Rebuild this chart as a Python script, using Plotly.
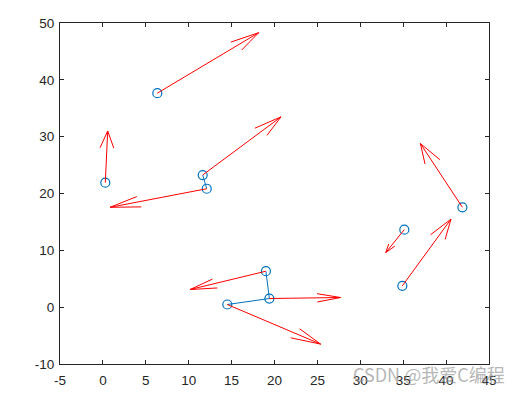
import plotly.graph_objects as go
import numpy as np

# Base points (circles)
pt_x = [6.34, 0.28, 11.63, 12.10, 19.00, 19.40, 14.50, 35.13, 34.90, 41.90]
pt_y = [37.65, 21.90, 23.25, 20.84, 6.33, 1.52, 0.47, 13.64, 3.75, 17.57]
# Velocity vectors (quiver components)
vec_u = [11.82, 0.28, 9.13, -11.27, -8.85, 8.30, 10.88, -2.17, 5.67, -4.90]
vec_v = [10.65, 9.10, 10.24, -3.27, -3.23, 0.18, -6.97, -4.04, 11.75, 11.23]
# Groups of points joined by blue lines
groups = [[0], [1], [2, 3], [4, 5, 6], [7], [8], [9]]

x_ticks = list(range(-5, 46, 5))
y_ticks = list(range(-10, 51, 10))

BLUE = "#0072BD"
RED = "#FF0000"
AX = "#262626"

fig = go.Figure()

# blue lines + markers
lx, ly = [], []
for g in groups:
    for i in g:
        lx.append(pt_x[i]); ly.append(pt_y[i])
    lx.append(None); ly.append(None)
fig.add_trace(go.Scatter(x=lx, y=ly, mode="lines+markers",
                         line=dict(color=BLUE, width=1),
                         marker=dict(symbol="circle-open", size=9,
                                     color=BLUE, line=dict(width=1.2, color=BLUE)),
                         hoverinfo="skip", showlegend=False))

# quiver arrows
ax_, ay_ = [], []
ang = np.deg2rad(15)
for x0, y0, u, v in zip(pt_x, pt_y, vec_u, vec_v):
    L = np.hypot(u, v)
    tx, ty = x0 + u, y0 + v
    h = min(0.34 * L, 3.65)
    bx, by = -u / L, -v / L
    ax_ += [x0, tx, None]
    ay_ += [y0, ty, None]
    for s in (ang, -ang):
        c, sn = np.cos(s), np.sin(s)
        dx = bx * c - by * sn
        dy = bx * sn + by * c
        ax_ += [tx + h * dx, tx, None]
        ay_ += [ty + h * dy, ty, None]
fig.add_trace(go.Scatter(x=ax_, y=ay_, mode="lines",
                         line=dict(color=RED, width=1),
                         hoverinfo="skip", showlegend=False))

axis_common = dict(showgrid=False, zeroline=False, showline=True, linecolor=AX,
                   linewidth=1, mirror="ticks", ticks="inside", ticklen=4,
                   automargin=False,
                   tickcolor=AX, tickfont=dict(family="Liberation Sans, Arial", size=13.5, color=AX))
fig.update_xaxes(range=[-5, 45], tickvals=x_ticks, ticktext=[str(t) for t in x_ticks],
                 ticklabelstandoff=4, **axis_common)
fig.update_yaxes(range=[-10, 50], tickvals=y_ticks, ticktext=[str(t) for t in y_ticks],
                 ticklabelstandoff=2, **axis_common)

fig.add_annotation(text="CSDN @我爱C编程", xref="paper", yref="paper",
                   x=1.042, y=-0.03, xanchor="right", yanchor="middle", showarrow=False,
                   font=dict(family="Noto Sans CJK SC, Liberation Sans", size=18,
                             color="rgba(150,150,150,0.7)"))

fig.update_layout(width=527, height=393, margin=dict(l=60, r=38, t=23, b=29),
                  plot_bgcolor="white", paper_bgcolor="white")

fig.write_html("out.html")
